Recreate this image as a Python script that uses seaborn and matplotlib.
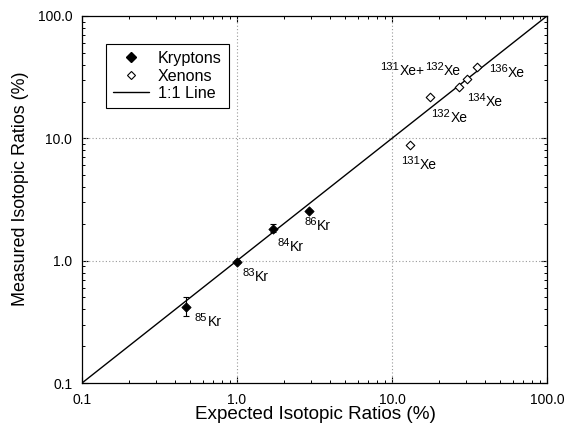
import matplotlib
matplotlib.use("Agg")
import matplotlib.pyplot as plt
import seaborn as sns
import pandas as pd
import numpy as np
from matplotlib.ticker import FixedLocator, FormatStrFormatter, LogLocator, NullFormatter
from matplotlib.lines import Line2D

sns.set_theme(style="white")
plt.rcParams['font.family'] = ['Liberation Sans', 'DejaVu Sans']

# Data
kr_mass = ["85", "83", "84", "86"]
kr_expected = [0.47, 1.00, 1.70, 2.90]
kr_measured = [0.42, 0.98, 1.82, 2.55]
kr_err_low = [0.07, 0.03, 0.10, 0.04]
kr_err_high = [0.08, 0.03, 0.18, 0.04]

xe_mass = ["131", "132", "134", "131+132", "136"]
xe_expected = [13.0, 17.6, 27.2, 30.6, 35.3]
xe_measured = [8.8, 21.9, 26.3, 30.8, 38.1]

line_x = [0.1, 100.0]
tick_vals = [0.1, 1.0, 10.0, 100.0]
legend_labels = ["Kryptons", "Xenons", "1:1 Line"]

kr_df = pd.DataFrame({"exp": kr_expected, "meas": kr_measured})
xe_df = pd.DataFrame({"exp": xe_expected, "meas": xe_measured})
line_df = pd.DataFrame({"x": line_x, "y": line_x})

fig = plt.figure(figsize=(5.68, 4.30), dpi=100)
ax = fig.add_axes([0.1444, 0.1093, 0.8186, 0.8535])
ax.set_xscale("log")
ax.set_yscale("log")

sns.lineplot(data=line_df, x="x", y="y", ax=ax, color="black", linewidth=1.0, zorder=2)
ax.errorbar(kr_expected, kr_measured, yerr=[kr_err_low, kr_err_high], fmt="none",
            ecolor="black", elinewidth=0.8, capsize=2.3, capthick=0.8, zorder=3)
sns.scatterplot(data=kr_df, x="exp", y="meas", ax=ax, marker="D", s=22,
                color="black", edgecolor="black", linewidth=0.6, zorder=4)
sns.scatterplot(data=xe_df, x="exp", y="meas", ax=ax, marker="D", s=19,
                facecolor="white", edgecolor="black", linewidth=0.8, zorder=4)

ax.set_xlim(0.1, 100)
ax.set_ylim(0.1, 100)

for v in [1.0, 10.0]:
    ax.axvline(v, color="#999999", linestyle=(0, (1, 2)), linewidth=0.8, zorder=1)
    ax.axhline(v, color="#999999", linestyle=(0, (1, 2)), linewidth=0.8, zorder=1)

ax.xaxis.set_major_locator(FixedLocator(tick_vals))
ax.yaxis.set_major_locator(FixedLocator(tick_vals))
ax.xaxis.set_major_formatter(FormatStrFormatter("%.1f"))
ax.yaxis.set_major_formatter(FormatStrFormatter("%.1f"))
ax.xaxis.set_minor_locator(LogLocator(base=10, subs=np.arange(2, 10)))
ax.yaxis.set_minor_locator(LogLocator(base=10, subs=np.arange(2, 10)))
ax.xaxis.set_minor_formatter(NullFormatter())
ax.yaxis.set_minor_formatter(NullFormatter())
ax.tick_params(which="both", direction="in", top=True, right=True, bottom=True, left=True,
               color="black")
ax.tick_params(which="major", length=4.5, width=0.8, labelsize=10, pad=7, labelcolor="black")
ax.tick_params(which="minor", length=2.5, width=0.7)
for sp in ax.spines.values():
    sp.set_color("black")
    sp.set_linewidth(0.9)

ax.set_xlabel("Expected Isotopic Ratios (%)", fontsize=13.6, color="black")
ax.set_ylabel("Measured Isotopic Ratios (%)", fontsize=12.9, color="black")
ax.xaxis.set_label_coords(0.503, -0.087)
ax.xaxis.label.set_va("center")
ax.yaxis.set_label_coords(-0.133, 0.53)
ax.yaxis.label.set_va("center")

EL_FS = 10.0
NUM_FS = 8.0


def isotope_label(x, y, mass, elem, off):
    el = ax.annotate(elem, (x, y), xytext=off, textcoords="offset points",
                     fontsize=EL_FS, ha="left", va="baseline", color="black")
    ax.annotate(mass, xy=(0, 0), xycoords=el, xytext=(-0.3, 5.8),
                textcoords="offset points", fontsize=NUM_FS, ha="right",
                va="baseline", color="black")
    return el


kr_offsets = [(15.3, -14.2), (13.2, -14.0), (12.5, -16.1), (6.2, -14.0)]
for m, x, y, off in zip(kr_mass, kr_expected, kr_measured, kr_offsets):
    isotope_label(x, y, m, "Kr", off)

xe_offsets = [(7.4, -17.5), (14.9, -18.0), (19.2, -13.5), (-49.0, 2.7), (22.5, -7.2)]
for m, x, y, off in zip(xe_mass, xe_expected, xe_measured, xe_offsets):
    if "+" in m:
        m1, m2 = m.split("+")
        e1 = isotope_label(x, y, m1, "Xe+", off)
        d2 = ax.annotate(m2, xy=(1, 0), xycoords=e1, xytext=(0.3, 5.8),
                         textcoords="offset points", fontsize=NUM_FS, ha="left",
                         va="baseline", color="black")
        ax.annotate("Xe", xy=(1, 0), xycoords=d2, xytext=(0.3, -2.0),
                    textcoords="offset points", fontsize=EL_FS, ha="left",
                    va="baseline", color="black")
    else:
        isotope_label(x, y, m, "Xe", off)

handles = [
    Line2D([], [], marker="D", color="black", linestyle="none", markersize=4.6),
    Line2D([], [], marker="D", markerfacecolor="white", markeredgecolor="black",
           markeredgewidth=0.8, linestyle="none", markersize=4.4),
    Line2D([], [], color="black", linewidth=1.0),
]
leg = ax.legend(handles, legend_labels, loc="upper left",
                bbox_to_anchor=(0.0516, 0.924), borderaxespad=0, fontsize=11.6,
                frameon=True, fancybox=False, edgecolor="black", framealpha=1,
                handlelength=2.2, borderpad=0.45, labelspacing=0.15, handletextpad=0.55)
leg.get_frame().set_linewidth(0.8)
for t in leg.get_texts():
    t.set_color("black")

fig.savefig("out.png", dpi=100)
